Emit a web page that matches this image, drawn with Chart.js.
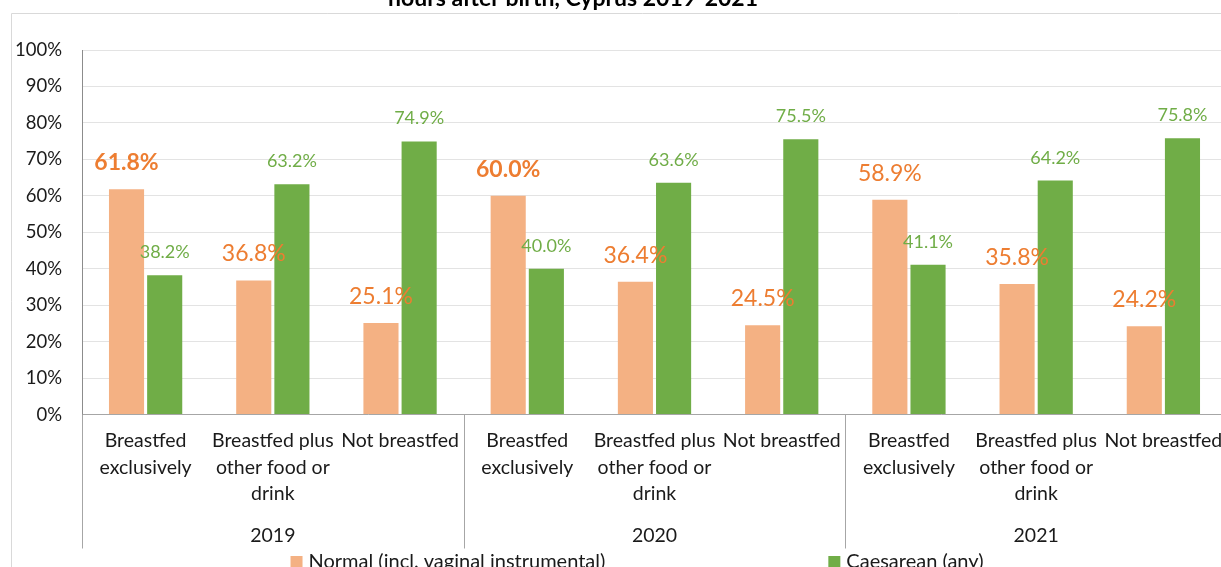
<!DOCTYPE html>
<html>
<head>
<meta charset="utf-8">
<title>Breastfeeding by type of birth, Cyprus 2019-2021</title>
<script src="https://cdn.jsdelivr.net/npm/chart.js@4.4.0/dist/chart.umd.min.js"></script>
<style>
  html, body { margin: 0; padding: 0; background: #fff; overflow: hidden; }
  #wrap { position: relative; width: 1274px; height: 590px; }
</style>
</head>
<body>
<div id="wrap"><canvas id="feeding-chart"></canvas></div>
<script>
// Feeding status of newborns by type of birth, per year
const years = ['2019', '2020', '2021'];
const feedingTypes = [
  ['Breastfed', 'exclusively'],
  ['Breastfed plus', 'other food or', 'drink'],
  ['Not breastfed']
];
const seriesNames = ['Normal (incl. vaginal instrumental)', 'Caesarean (any)'];
const normalBirths = [61.8, 36.8, 25.1, 60.0, 36.4, 24.5, 58.9, 35.8, 24.2];
const caesareanBirths = [38.2, 63.2, 74.9, 40.0, 63.6, 75.5, 41.1, 64.2, 75.8];
const titleText = 'hours after birth, Cyprus 2019-2021';

const FONT = 'Lato, "Open Sans", sans-serif';
const TEXT = '#1a1a1a';
const ORANGE = '#F4B183';
const GREEN = '#70AD47';

// one x label per bar group: every feeding type repeated for each year
const labels = years.flatMap(() => feedingTypes);

// light grey outer frame of the chart
const framePlugin = {
  id: 'frame',
  beforeDraw(chart) {
    const ctx = chart.ctx;
    ctx.save();
    ctx.strokeStyle = '#d9d9d9';
    ctx.lineWidth = 1;
    ctx.beginPath();
    ctx.moveTo(11.5, chart.height);
    ctx.lineTo(11.5, 13.5);
    ctx.lineTo(chart.width, 13.5);
    ctx.stroke();
    ctx.restore();
  }
};

// title sits above the frame
const headlinePlugin = {
  id: 'headline',
  afterDraw(chart) {
    const ctx = chart.ctx;
    ctx.save();
    ctx.font = 'bold 23px ' + FONT;
    ctx.fillStyle = '#000';
    ctx.textAlign = 'center';
    ctx.textBaseline = 'alphabetic';
    ctx.fillText(titleText, 573, 6);
    ctx.restore();
  }
};

// vertical lines between the year groups, running through both label rows
const yearDividers = {
  id: 'yearDividers',
  afterDraw(chart) {
    const x = chart.scales.x;
    const yr = chart.scales.year;
    const ctx = chart.ctx;
    ctx.save();
    ctx.strokeStyle = '#a6a6a6';
    ctx.lineWidth = 1;
    ctx.beginPath();
    for (let i = 0; i <= years.length; i++) {
      const px = Math.round(x.left + i * x.width / years.length) + 0.5;
      ctx.moveTo(px, chart.chartArea.bottom);
      ctx.lineTo(px, yr.bottom - 3);
    }
    ctx.stroke();
    ctx.restore();
  }
};

// percentage labels above each bar
const valueLabels = {
  id: 'valueLabels',
  afterDatasetsDraw(chart, args, opts) {
    const ctx = chart.ctx;
    ctx.save();
    ctx.textAlign = 'center';
    ctx.textBaseline = 'alphabetic';
    chart.data.datasets.forEach((ds, di) => {
      const style = opts.styles[di];
      chart.getDatasetMeta(di).data.forEach((bar, i) => {
        const bold = (style.bold || []).includes(i);
        ctx.font = (bold ? 'bold ' : '') + style.size + 'px ' + FONT;
        ctx.fillStyle = style.color;
        ctx.fillText(ds.data[i].toFixed(1) + '%', bar.x, bar.y - style.lift);
      });
    });
    ctx.restore();
  }
};

// legend row along the bottom edge
const bottomLegend = {
  id: 'bottomLegend',
  afterDraw(chart, args, opts) {
    const ctx = chart.ctx;
    ctx.save();
    ctx.font = opts.size + 'px ' + FONT;
    ctx.textBaseline = 'middle';
    ctx.textAlign = 'left';
    const items = chart.data.datasets.map(ds => ({
      label: ds.label,
      color: ds.backgroundColor,
      w: opts.box + opts.textGap + ctx.measureText(ds.label).width
    }));
    const total = items.reduce((s, it) => s + it.w, 0) + opts.gap * (items.length - 1);
    let x = chart.width / 2 - total / 2;
    items.forEach(it => {
      ctx.fillStyle = it.color;
      ctx.fillRect(x, opts.y - opts.box / 2, opts.box, opts.box);
      ctx.fillStyle = TEXT;
      ctx.fillText(it.label, x + opts.box + opts.textGap, opts.y);
      x += it.w + opts.gap;
    });
    ctx.restore();
  }
};

new Chart(document.getElementById('feeding-chart'), {
  type: 'bar',
  data: {
    labels: labels,
    datasets: [
      {
        label: seriesNames[0],
        data: normalBirths,
        backgroundColor: ORANGE,
        categoryPercentage: 0.6,
        barPercentage: 0.92
      },
      {
        label: seriesNames[1],
        data: caesareanBirths,
        backgroundColor: GREEN,
        categoryPercentage: 0.6,
        barPercentage: 0.92
      }
    ]
  },
  options: {
    responsive: true,
    maintainAspectRatio: false,
    animation: false,
    layout: { padding: { left: 0, right: 47, top: 50, bottom: 38.5 } },
    plugins: {
      legend: { display: false },
      title: { display: false },
      tooltip: { enabled: false },
      valueLabels: {
        styles: [
          { color: '#ED7D31', size: 23, lift: 19, bold: [0, 3] },
          { color: GREEN, size: 18, lift: 17 }
        ]
      },
      bottomLegend: { y: 562, size: 20, box: 12, textGap: 6, gap: 223 }
    },
    scales: {
      x: {
        grid: { display: false, drawTicks: false },
        border: { color: '#a6a6a6' },
        ticks: {
          color: TEXT,
          font: { family: FONT, size: 19.5, lineHeight: 1.36 },
          padding: 13,
          autoSkip: false,
          maxRotation: 0
        }
      },
      year: {
        type: 'category',
        labels: years,
        position: 'bottom',
        weight: 1,
        offset: true,
        grid: { display: false, drawTicks: false },
        border: { display: false },
        ticks: {
          color: TEXT,
          font: { family: FONT, size: 19.5, lineHeight: 1.2 },
          padding: 4
        }
      },
      y: {
        min: 0,
        max: 100,
        afterFit(scale) { scale.width = 82; },
        grid: { color: '#e3e3e3', drawTicks: false },
        border: { color: '#8c8c8c' },
        ticks: {
          stepSize: 10,
          padding: 20,
          color: TEXT,
          font: { family: FONT, size: 18.5 },
          callback: v => v + '%'
        }
      }
    }
  },
  plugins: [framePlugin, yearDividers, valueLabels, bottomLegend, headlinePlugin]
});
</script>
</body>
</html>
